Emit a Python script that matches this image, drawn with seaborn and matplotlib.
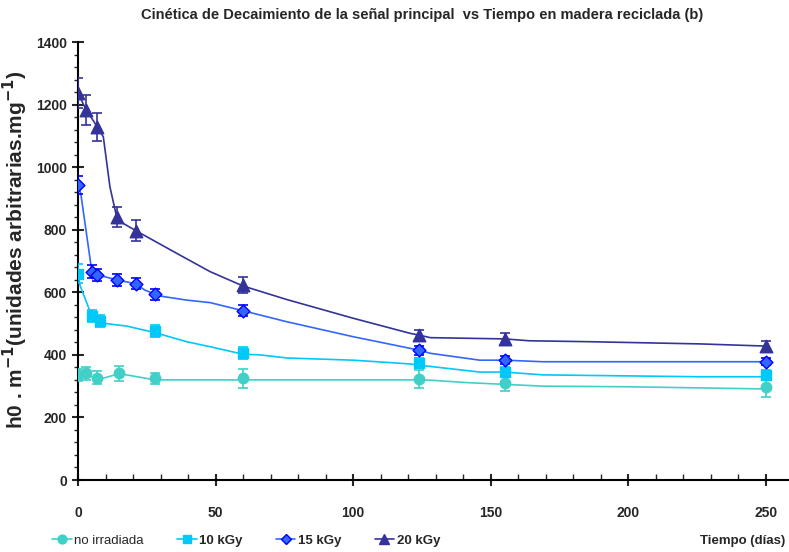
import matplotlib
matplotlib.use("Agg")
import matplotlib.pyplot as plt
import seaborn as sns
import pandas as pd
from matplotlib.ticker import MultipleLocator
from matplotlib.lines import Line2D

sns.set_style("ticks")
plt.rcParams['font.family'] = ['Liberation Sans', 'DejaVu Sans']

# ---- measured points (days, value, error) ----
dias_0 = [0, 3, 7, 15, 28, 60, 124, 155, 250]
val_0 = [336, 341, 327, 341, 325, 325, 323, 311, 298]
err_0 = [18, 21, 21, 23, 18, 30, 30, 27, 32]

dias_10 = [0, 5, 8, 28, 60, 124, 155, 250]
val_10 = [660, 524, 508, 477, 405, 375, 345, 336]
err_10 = [30, 19, 19, 20, 19, 15, 15, 15]

dias_15 = [0, 5, 7, 14, 21, 28, 60, 124, 155, 250]
val_15 = [943, 666, 656, 640, 627, 593, 541, 415, 383, 378]
err_15 = [30, 20, 20, 20, 18, 18, 18, 14, 12, 12]

dias_20 = [0, 3, 7, 14, 21, 60, 124, 155, 250]
val_20 = [1236, 1183, 1129, 841, 797, 623, 463, 451, 428]
err_20 = [48, 47, 45, 32, 34, 25, 18, 18, 17]

# ---- smoothed trend curves ----
curva_x_0 = [0, 3, 7, 15, 28, 124, 128, 142, 169, 200, 250]
curva_y_0 = [336, 341, 320, 340, 320, 320, 319, 311, 300, 298, 291]

curva_x_10 = [0, 0.7, 4.4, 5, 9.2, 17.7, 28, 39.5, 48, 60, 66, 76, 100, 120.6, 124, 146, 155, 169, 226, 250]
curva_y_10 = [660, 623, 538, 524, 501, 492, 471, 442, 426, 402, 400, 390, 383, 371, 367, 345, 345, 336, 330, 330]

curva_x_15 = [0, 1, 4.7, 5, 7, 14, 21, 24.3, 29.8, 39.5, 48, 60, 75.8, 100, 120.6, 124, 128, 146, 155, 169, 250]
curva_y_15 = [943, 916, 687, 666, 656, 640, 627, 607, 588, 575, 567, 541, 506, 458, 421, 415, 405, 383, 383, 378, 378]

curva_x_20 = [0, 3, 7, 9.2, 11.6, 14.3, 21, 37, 48, 60, 75.8, 100, 120.6, 124, 128, 155, 164, 186, 226, 250]
curva_y_20 = [1236, 1183, 1129, 1097, 937, 831, 797, 719, 666, 620, 577, 517, 469, 463, 455, 451, 445, 442, 435, 428]

nombres = ["no irradiada", "10 kGy", "15 kGy", "20 kGy"]
colores_linea = ["#40D0C8", "#00C8F8", "#3366FF", "#333399"]
colores_relleno = ["#40D0C8", "#00C8F8", "#3366FF", "#333399"]
colores_borde = ["#40D0C8", "#00C8F8", "#0000FF", "#333399"]
marcadores = ["o", "s", "D", "^"]
tamanos = [7.5, 7.5, 6.5, 9]

puntos = [(dias_0, val_0, err_0), (dias_10, val_10, err_10),
          (dias_15, val_15, err_15), (dias_20, val_20, err_20)]
curvas = [(curva_x_0, curva_y_0), (curva_x_10, curva_y_10),
          (curva_x_15, curva_y_15), (curva_x_20, curva_y_20)]

fig = plt.figure(figsize=(7.89, 5.52), dpi=100)
ax = fig.add_axes([78/789, 1-480/552, 1-78/789, (480-42)/552])

for i in range(4):
    cx, cy = curvas[i]
    dfc = pd.DataFrame({"x": cx, "y": cy})
    sns.lineplot(data=dfc, x="x", y="y", ax=ax, color=colores_linea[i], lw=1.2,
                 sort=False, estimator=None, zorder=2)
    dx, dy, de = puntos[i]
    ax.errorbar(dx, dy, yerr=de, fmt="none", ecolor=colores_borde[i], elinewidth=1.2,
                capsize=3.5, capthick=1.2, zorder=3)
    dfp = pd.DataFrame({"x": dx, "y": dy})
    sns.scatterplot(data=dfp, x="x", y="y", ax=ax, marker=marcadores[i],
                    s=tamanos[i]**2, color=colores_relleno[i],
                    edgecolor=colores_borde[i], linewidth=1, zorder=4)

ax.set_xlim(0, 250*711/688)
ax.set_ylim(0, 1400)
ax.xaxis.set_major_locator(MultipleLocator(50))
ax.xaxis.set_minor_locator(MultipleLocator(10))
ax.yaxis.set_major_locator(MultipleLocator(200))
ax.yaxis.set_minor_locator(MultipleLocator(40))
for s in ["top", "right"]:
    ax.spines[s].set_visible(False)
for s in ["left", "bottom"]:
    ax.spines[s].set_linewidth(1.5)
    ax.spines[s].set_color("black")
ax.tick_params(axis="x", which="major", direction="inout", length=9, width=1.5, pad=14)
ax.tick_params(axis="x", which="minor", direction="in", length=4, width=1)
ax.tick_params(axis="y", which="major", direction="inout", length=8, width=1.5, pad=4)
ax.tick_params(axis="y", which="minor", direction="out", length=3, width=1)
for lab in ax.get_xticklabels() + ax.get_yticklabels():
    lab.set_fontweight("bold")
    lab.set_fontsize(10)

ax.set_xlabel("")
ax.set_ylabel(r"h0 . m$^{\mathbf{-1}}$(unidades arbitrarias.mg$^{\mathbf{-1}}$)",
              fontsize=15, fontweight="bold")
ax.yaxis.set_label_coords(-0.068, 0.525)
fig.suptitle("Cinética de Decaimiento de la señal principal  vs Tiempo en madera reciclada (b)",
             x=0.535, y=0.985, fontsize=10.5, fontweight="bold")

handles = [Line2D([0], [0], color=colores_linea[i], lw=1.2, marker=marcadores[i],
                  markersize=tamanos[i]*0.85, markerfacecolor=colores_relleno[i],
                  markeredgecolor=colores_borde[i]) for i in range(4)]
leg = fig.legend(handles, nombres, loc="center", bbox_to_anchor=(0.312, 0.02), ncol=4,
                 frameon=False, fontsize=9.5, handlelength=1.5, handletextpad=0.2,
                 columnspacing=2.5, borderpad=0, borderaxespad=0)
for j, t in enumerate(leg.get_texts()):
    if j > 0:
        t.set_fontweight("bold")
fig.text(0.995, 0.02, "Tiempo (días)", ha="right", va="center", fontsize=9.5, fontweight="bold")

fig.savefig("out.png", dpi=100)
